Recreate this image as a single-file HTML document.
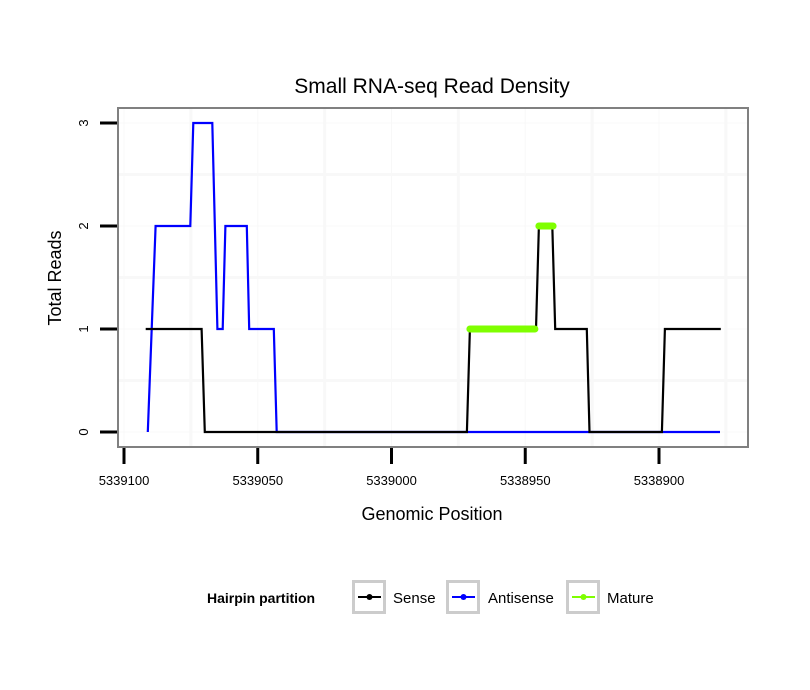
<!DOCTYPE html>
<html><head><meta charset="utf-8"><style>
html,body{margin:0;padding:0;background:#fff;}
svg{display:block;font-family:"Liberation Sans",sans-serif;}
</style></head><body>
<svg id="chart" width="810" height="690">
<text x="432" y="93" font-size="21" text-anchor="middle">Small RNA-seq Read Density</text>
<g id="grid"></g>
<g id="series"></g>
<rect x="118" y="108" width="630" height="339" fill="none" stroke="#808080" stroke-width="2"/>
<g id="axes"></g>
<text x="432" y="520" font-size="18" text-anchor="middle">Genomic Position</text>
<text transform="translate(61,278) rotate(-90)" font-size="18" text-anchor="middle">Total Reads</text>
<g>
<text x="207" y="603" font-size="14" font-weight="bold">Hairpin partition</text>
<g>
<rect x="353.5" y="581.5" width="31" height="31" fill="#fff" stroke="#cccccc" stroke-width="3"/>
<line x1="358" y1="597" x2="381" y2="597" stroke="#000" stroke-width="2"/><circle cx="369.5" cy="597" r="3" fill="#000"/>
<text x="393" y="603" font-size="15">Sense</text></g>
<g>
<rect x="447.5" y="581.5" width="31" height="31" fill="#fff" stroke="#cccccc" stroke-width="3"/>
<line x1="452" y1="597" x2="475" y2="597" stroke="#0000ff" stroke-width="2"/><circle cx="463.5" cy="597" r="3" fill="#0000ff"/>
<text x="488" y="603" font-size="15">Antisense</text></g>
<g>
<rect x="567.5" y="581.5" width="31" height="31" fill="#fff" stroke="#cccccc" stroke-width="3"/>
<line x1="572" y1="597" x2="595" y2="597" stroke="#7fff00" stroke-width="2"/><circle cx="583.5" cy="597" r="3" fill="#7fff00"/>
<text x="607" y="603" font-size="15">Mature</text></g>
</g>
</svg>
<script>
const xTicks=[5339100,5339050,5339000,5338950,5338900];
const yTicks=[0,1,2,3];
const senseX=[5339091.9,5339071,5339069.8,5338971.8,5338970.7,5338946,5338944.9,5338939.9,5338938.8,5338927,5338926,5338898.9,5338897.8,5338876.9];
const senseY=[1,1,0,0,1,1,2,2,1,1,0,0,1,1];
const antiX=[5339091.1,5339088.2,5339075.2,5339074.1,5339067,5339065.1,5339063.1,5339062.1,5339054.1,5339053.2,5339044,5339042.9,5338877.2];
const antiY=[0,2,2,3,3,1,1,2,2,1,1,0,0];
const matureX1=[5338970.7,5338946.4];
const matureY1=[1,1];
const matureX2=[5338944.9,5338939.6];
const matureY2=[2,2];
const NS="http://www.w3.org/2000/svg";
function X(p){return 124+(5339100-p)*2.675;}
function Y(v){return 432-v*103;}
function mk(tag,attrs,parent){const e=document.createElementNS(NS,tag);for(const k in attrs)e.setAttribute(k,attrs[k]);parent.appendChild(e);return e;}
const grid=document.getElementById('grid'),axes=document.getElementById('axes'),ser=document.getElementById('series');
const GC='#f8f8f8';
for(let i=0;i<xTicks.length;i++){
 const g=mk('line',{x1:X(xTicks[i]),x2:X(xTicks[i]),y1:109,y2:446,stroke:GC,'stroke-width':1},grid);
 
 
 const m=mk('line',{x1:X(xTicks[i]-25),x2:X(xTicks[i]-25),y1:109,y2:446,stroke:GC,'stroke-width':3},grid);
 
 
 const t=mk('line',{x1:X(xTicks[i]),x2:X(xTicks[i]),y1:448,y2:464,stroke:'#000','stroke-width':3},axes);
 
 
 const l=mk('text',{x:X(xTicks[i]),y:485,'font-size':13,'text-anchor':'middle'},axes);
 l.textContent=xTicks[i];
 
 
}
for(let i=0;i<yTicks.length;i++){
 const g=mk('line',{x1:119,x2:747,y1:Y(yTicks[i]),y2:Y(yTicks[i]),stroke:GC,'stroke-width':1},grid);
 
 
 if(i<yTicks.length-1){
 const m=mk('line',{x1:119,x2:747,y1:Y(yTicks[i]+0.5),y2:Y(yTicks[i]+0.5),stroke:GC,'stroke-width':3},grid);
 
 
 }
 const t=mk('line',{x1:100,x2:117,y1:Y(yTicks[i]),y2:Y(yTicks[i]),stroke:'#000','stroke-width':3},axes);
 
 
 const l=mk('text',{transform:`translate(88,${Y(yTicks[i])}) rotate(-90)`,'font-size':13,'text-anchor':'middle'},axes);
 l.textContent=yTicks[i];
 
 
}
function path(xs,ys){return xs.map((p,i)=>(i?'L':'M')+X(p).toFixed(1)+' '+Y(ys[i]).toFixed(1)).join(' ');}
const a=mk('path',{d:path(antiX,antiY),fill:'none',stroke:'#0000ff','stroke-width':2.2},ser);


const s=mk('path',{d:path(senseX,senseY),fill:'none',stroke:'#000','stroke-width':2.2},ser);


const m1=mk('path',{d:path(matureX1,matureY1),fill:'none',stroke:'#7fff00','stroke-width':7,'stroke-linecap':'round'},ser);


const m2=mk('path',{d:path(matureX2,matureY2),fill:'none',stroke:'#7fff00','stroke-width':7,'stroke-linecap':'round'},ser);


</script>
</body></html>
